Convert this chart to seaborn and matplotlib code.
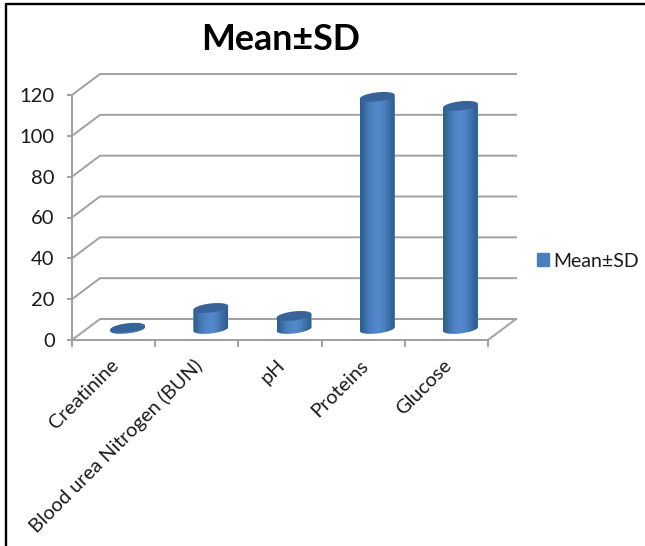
import numpy as np
import pandas as pd
import seaborn as sns
import matplotlib.pyplot as plt
from matplotlib.lines import Line2D
from matplotlib.patches import Patch, Polygon
from matplotlib.transforms import ScaledTranslation

categories = ['Creatinine', 'Blood urea Nitrogen (BUN)', 'pH', 'Proteins', 'Glucose']
values = [0.6, 10.3, 6.4, 113.7, 109.3]
yticks = [0, 20, 40, 60, 80, 100, 120]
series_name = 'Mean±SD'

sns.set_theme(style='white')
plt.rcParams['font.family'] = ['Lato', 'DejaVu Sans']

W, H = 645, 546
fig = plt.figure(figsize=(W / 100, H / 100), dpi=100)
fig.patch.set_facecolor('white')
# plot box in pixels, front face of the fake 3d wall
ax = fig.add_axes([72 / W, 1 - 340 / H, 416 / W, 245 / H])

df = pd.DataFrame({'name': categories, 'value': values})
base = 5.4
sns.barplot(data=df, x='name', y='value', color='#4f81bd', width=0.42, bottom=base, ax=ax, zorder=3)

ax.set_xlim(-0.5, 4.5)
ax.set_ylim(0, 120)
ax.set_yticks(yticks)
ax.set_ylabel('')
ax.set_xlabel('')
sns.despine(ax=ax, top=True, right=True, left=True, bottom=True)
ax.tick_params(axis='y', length=0, pad=12.5, labelsize=14.5, labelcolor='#1a1a1a')
ax.tick_params(axis='x', length=0, pad=12)
ax.set_xticks(range(5))
ax.set_xticklabels(categories, rotation=45, ha='right', rotation_mode='anchor', fontsize=14.3, color='#1a1a1a')
nudge = ScaledTranslation(-3 / 72, 0, fig.dpi_scale_trans)
for lab in ax.get_xticklabels():
    lab.set_transform(lab.get_transform() + nudge)

# depth of the wall, in data units
dx = 28 / 83.2
dy = 21 / 245 * 120
grey = '#a0a0a0'
line = dict(color=grey, lw=1.4, clip_on=False, zorder=1, solid_capstyle='projecting')
for v in yticks:
    ax.plot([-0.5, -0.5 + dx, 4.5 + dx], [v, v + dy, v + dy], **line)
    ax.plot([-0.5 - 4 / 83.2, -0.5], [v, v], **line)
ax.plot([-0.5, -0.5], [0, 120], **line)
ax.plot([-0.5, 4.5, 4.5 + dx], [0, 0, dy], **line)
for k in range(6):
    ax.plot([k - 0.5, k - 0.5], [0, -5.5 / 245 * 120], **line)

# cylinders: gradient body and tilted caps over the seaborn bars
shift = 14 / 83.2
b = 4.5 / 245 * 120
slope = 4.5  # data units of tilt per category unit
t = np.linspace(0, np.pi, 40)
gradient = np.array([0, 0.3, 0.6, 0.82, 0.96, 1, 0.96, 0.8, 0.55, 0.25, 0])[None, :]
cmap = sns.blend_palette(['#31608f', '#5288cc'], as_cmap=True)
for bar in ax.patches:
    bar.set_x(bar.get_x() + shift)
    x0, w = bar.get_x(), bar.get_width()
    a = w / 2
    cx = x0 + a
    y0, y1 = bar.get_y(), bar.get_y() + bar.get_height()
    sx = a * np.cos(t)
    top_edge = np.c_[cx + sx, y1 + sx * slope]
    low_edge = np.c_[cx - sx, y0 - b * np.sin(t) - sx * slope]
    body = Polygon(np.r_[top_edge, low_edge], transform=ax.transData)
    im = ax.imshow(gradient, extent=[x0, x0 + w, y0 - 3 * b, y1 + 3 * b], aspect='auto', cmap=cmap,
                   vmin=0, vmax=1, zorder=4, interpolation='bicubic')
    im.set_clip_path(body)
    bar.set_clip_path(body)
    tt = np.linspace(0, 2 * np.pi, 80)
    cap = np.c_[cx + a * np.cos(tt), y1 + b * np.sin(tt) + a * np.cos(tt) * slope]
    ax.add_patch(Polygon(cap, fc='#376398', ec='none', zorder=5, clip_on=False))
ax.set_xlim(-0.5, 4.5)
ax.set_ylim(0, 120)

fig.text(281 / W, 1 - 39 / H, series_name, fontsize=25.8, fontweight='bold', color='black', ha='center', va='center')
fig.legend(handles=[Patch(color='#4a7ebb', label=series_name)], loc='center left', bbox_to_anchor=(519 / W, 1 - 261 / H),
           frameon=False, fontsize=14, handlelength=0.62, handleheight=0.62, handletextpad=0.25, labelcolor='#1a1a1a')

# screenshot frame, only left and top show
fig.add_artist(Line2D([6 / W, 6 / W, 1], [0, 1 - 3.5 / H, 1 - 3.5 / H], transform=fig.transFigure, color='black', lw=1.7))

fig.savefig('out.png', dpi=100)
